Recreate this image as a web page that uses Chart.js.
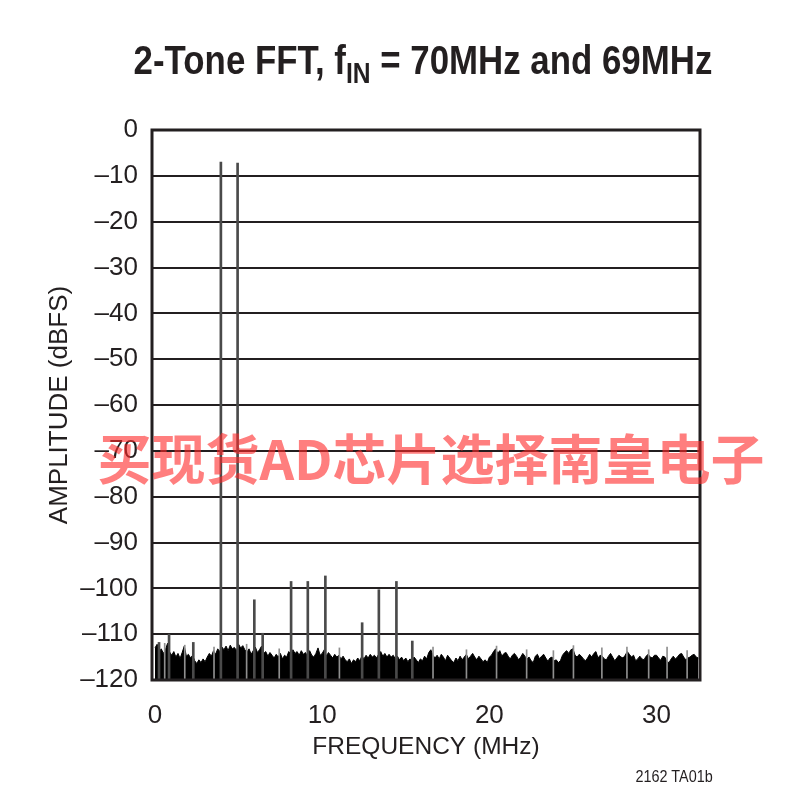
<!DOCTYPE html>
<html>
<head>
<meta charset="utf-8">
<script src="https://cdn.jsdelivr.net/npm/chart.js@4.4.0/dist/chart.umd.min.js"></script>
<style>
  body { margin: 0; background: #fff; }
  #wrap { position: relative; width: 810px; height: 810px; overflow: hidden; }
  #myChart { position: absolute; left: 0; top: 0; }
  #title {
    position: absolute; left: 0; top: 35px; width: 846px; text-align: center;
    font-family: "Liberation Sans", sans-serif;
    font-weight: bold; font-size: 41px; line-height: 50px; color: #231f20;
    transform: scaleX(0.85); transform-origin: 423px 0;
  }
  #title sub { font-size: 29px; vertical-align: -9px; line-height: 0; }
  #note {
    position: absolute; right: 97px; top: 768px;
    font-family: "Liberation Sans", sans-serif;
    font-size: 16px; color: #231f20;
    transform: scaleX(0.9); transform-origin: right top;
  }
  #mark {
    position: absolute; left: 0; top: 427px; width: 862px; text-align: center;
    font-family: "Noto Sans CJK SC", sans-serif; font-weight: bold;
    font-size: 54px; line-height: 60px; color: rgba(255, 40, 40, 0.6);
    white-space: nowrap;
  }
</style>
</head>
<body>
<div id="wrap">
  <canvas id="myChart" width="810" height="810"></canvas>
  <div id="title">2-Tone FFT, f<sub>IN</sub> = 70MHz and 69MHz</div>
  <div id="note">2162 TA01b</div>
  <div id="mark">买现货AD芯片选择南皇电子</div>
</div>
<script>
// noise floor, one value every 0.125 MHz from 0 to 32.5 MHz (dBFS), one row per MHz
const noise_step = 0.125;
const noise_floor = [
  -113.0, -112.2, -113.8, -113.2, -114.2, -113.4, -112.0, -113.9,
  -114.6, -113.8, -115.0, -114.2, -115.3, -114.0, -112.6, -114.8,
  -114.4, -115.2, -114.6, -115.8, -116.4, -115.6, -116.2, -115.4,
  -116.0, -115.0, -114.2, -114.8, -113.6, -114.4, -113.2, -113.8,
  -112.8, -113.4, -112.6, -113.6, -112.4, -113.2, -112.9, -113.6,
  -112.2, -113.0, -112.5, -113.4, -113.9, -113.2, -114.4, -113.6,
  -112.8, -114.0, -113.4, -112.6, -114.2, -113.8, -114.8, -114.0,
  -114.6, -115.2, -114.4, -115.0, -114.2, -115.4, -114.6, -115.0,
  -113.8, -114.4, -113.4, -114.2, -113.8, -114.6, -113.6, -114.4,
  -114.0, -114.8, -113.6, -114.6, -115.0, -114.2, -113.0, -114.6,
  -114.2, -113.4, -114.8, -114.0, -114.6, -115.2, -114.4, -115.0,
  -114.6, -115.4, -114.8, -115.6, -116.0, -115.4, -116.4, -115.6,
  -116.0, -115.2, -115.8, -114.8, -115.4, -114.6, -115.2, -114.4,
  -115.0, -114.6, -115.2, -114.4, -113.8, -114.8, -114.2, -115.0,
  -114.4, -115.0, -114.6, -115.4, -114.8, -115.6, -115.0, -115.8,
  -115.2, -116.0, -115.4, -115.8, -115.0, -115.6, -116.2, -115.4,
  -115.8, -114.8, -115.4, -114.0, -113.4, -114.6, -115.2, -114.6,
  -115.4, -114.4, -115.0, -115.8, -114.6, -115.2, -115.8, -116.2,
  -115.2, -115.8, -114.8, -115.6, -115.0, -114.4, -115.4, -114.8,
  -114.2, -115.0, -115.6, -114.8, -115.4, -116.0, -115.6, -116.2,
  -115.0, -114.6, -113.8, -113.2, -114.2, -113.6, -114.8, -114.2,
  -114.0, -114.8, -115.4, -114.6, -114.2, -114.8, -115.6, -115.0,
  -114.2, -114.8, -115.4, -115.0, -115.8, -116.2, -114.8, -114.4,
  -115.4, -114.8, -114.4, -115.2, -115.9, -115.2, -115.0, -115.8,
  -115.6, -116.2, -115.8, -114.6, -114.0, -113.6, -114.2, -113.4,
  -113.2, -114.6, -115.0, -114.4, -114.8, -115.4, -115.8, -115.2,
  -114.4, -115.0, -114.2, -113.8, -115.2, -114.6, -114.8, -115.4,
  -115.6, -114.8, -114.2, -115.0, -115.8, -115.2, -114.6, -115.0,
  -115.2, -114.6, -113.8, -114.4, -115.0, -114.6, -115.8, -115.4,
  -114.8, -115.4, -115.6, -114.8, -114.4, -115.0, -115.2, -114.6,
  -114.6, -115.2, -115.7, -114.8, -115.0, -116.0, -116.2, -115.4,
  -114.8, -115.4, -115.0, -114.4, -114.2, -115.0, -115.6, -115.2,
  -115.0, -114.6, -114.4, -115.0, -115.2
];

// tones and spurs
const spur_freq = [0.3, 0.9, 2.35, 4.0, 5.0, 6.0, 6.5, 8.2, 9.2, 10.25, 12.45, 13.45, 14.5, 15.45];
const spur_amp = [-111.8, -110.0, -111.8, -7.0, -7.2, -102.5, -109.8, -98.5, -98.5, -97.3, -107.5, -100.3, -98.5, -111.5];

// small noise peaks poking out of the floor
const peak_freq = [0.55, 1.75, 3.5, 5.45, 7.4, 11.0, 16.6, 18.6, 20.4, 22.2, 23.8, 25.0, 26.7, 28.2, 29.5, 30.6, 31.8];
const peak_amp = [-112.0, -112.4, -112.8, -112.2, -113.2, -113.0, -112.8, -113.4, -112.6, -113.4, -113.6, -112.5, -113.0, -112.8, -113.4, -112.8, -113.6];

const y_ticks = [0, -10, -20, -30, -40, -50, -60, -70, -80, -90, -100, -110, -120];
const x_ticks = [0, 10, 20, 30];

const floor_value = -120;
const noise_points = noise_floor.map((v, i) => ({ x: i * noise_step, y: v }));
const spur_points = spur_freq.map((f, i) => ({ x: f, y: [floor_value, spur_amp[i]] }));
const peak_points = peak_freq.map((f, i) => ({ x: f, y: [floor_value, peak_amp[i]] }));

const boxPlugin = {
    id: "box",
    afterDraw(chart) {
        const { ctx, chartArea: a } = chart;
        ctx.save();
        ctx.strokeStyle = "#231f20";
        ctx.lineWidth = 3;
        ctx.strokeRect(a.left, a.top, a.right - a.left, a.bottom - a.top);
        ctx.restore();
    }
};

const tickFont = { family: "'Liberation Sans', sans-serif", size: 26 };
const xTitleFont = { family: "'Liberation Sans', sans-serif", size: 24.5 };

const ctx = document.getElementById("myChart");

new Chart(ctx, {
    type: "bar",
    data: {
        datasets: [
            {
                type: "line",
                data: noise_points,
                borderColor: "#000",
                backgroundColor: "#000",
                borderWidth: 1,
                pointRadius: 0,
                fill: "start",
                tension: 0,
                order: 2
            },
            {
                data: peak_points,
                backgroundColor: "#8f8f8f",
                barThickness: 1,
                order: 1
            },
            {
                data: spur_points,
                backgroundColor: "#4a4a4a",
                barThickness: 2,
                order: 0
            }
        ]
    },
    options: {
        responsive: false,
        animation: false,
        layout: { padding: { left: 44, right: 110, top: 130, bottom: 48 } },
        plugins: { legend: { display: false }, tooltip: { enabled: false } },
        scales: {
            x: {
                type: "linear",
                min: -0.18,
                max: 32.6,
                offset: false,
                grid: { display: false, offset: false },
                border: { display: false },
                afterBuildTicks: s => { s.ticks = x_ticks.map(v => ({ value: v })); },
                afterFit: s => { s.height = 82; },
                ticks: { font: tickFont, color: "#231f20", padding: 12, maxRotation: 0 },
                title: {
                    display: true,
                    text: "FREQUENCY (MHz)",
                    font: xTitleFont,
                    color: "#231f20",
                    padding: { top: 0, bottom: 0 }
                }
            },
            y: {
                min: -120,
                max: 0,
                grid: { color: "#231f20", lineWidth: 2, drawTicks: false },
                border: { display: false },
                afterBuildTicks: s => { s.ticks = y_ticks.map(v => ({ value: v })); },
                afterFit: s => { s.width = 108; },
                ticks: {
                    font: tickFont,
                    color: "#231f20",
                    padding: 14,
                    callback: v => String(v).replace("-", "\u2013")
                },
                title: {
                    display: true,
                    text: "AMPLITUDE (dBFS)",
                    font: tickFont,
                    color: "#231f20",
                    padding: { top: 0, bottom: 0 }
                }
            }
        }
    },
    plugins: [boxPlugin]
});
</script>
</body>
</html>
